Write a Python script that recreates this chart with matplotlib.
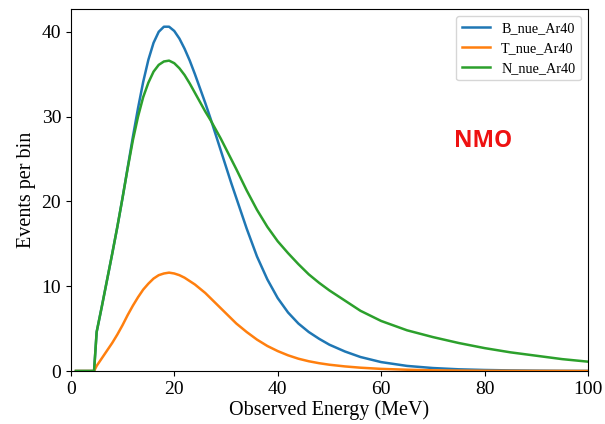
import matplotlib
matplotlib.use("Agg")
import matplotlib.pyplot as plt

energy = [1, 4.5, 5, 6, 7, 8, 9, 10, 11, 12, 13, 14, 15, 16, 17, 18, 19, 20,
          21, 22, 23, 24, 25, 26, 27, 28, 29, 30, 31, 32, 34, 36, 38, 40, 42,
          44, 46, 48, 50, 53, 56, 60, 65, 70, 75, 80, 85, 90, 95, 100]

b_nue = [0, 0, 4.6, 7.6, 10.7, 13.8, 17.0, 20.4, 24.0, 27.6, 31.0, 34.1, 36.7,
         38.7, 40.0, 40.6, 40.6, 40.1, 39.2, 38.0, 36.6, 35.0, 33.3, 31.6, 29.8,
         27.9, 26.0, 24.1, 22.2, 20.4, 16.8, 13.5, 10.8, 8.6, 6.9, 5.6, 4.6, 3.8,
         3.1, 2.3, 1.65, 1.05, 0.6, 0.35, 0.2, 0.12, 0.07, 0.04, 0.02, 0.01]

t_nue = [0, 0, 0.6, 1.5, 2.4, 3.3, 4.3, 5.4, 6.6, 7.7, 8.7, 9.6, 10.3, 10.9,
         11.3, 11.5, 11.6, 11.5, 11.3, 11.0, 10.6, 10.2, 9.7, 9.2, 8.6, 8.0, 7.4,
         6.8, 6.2, 5.6, 4.6, 3.7, 2.95, 2.35, 1.85, 1.45, 1.15, 0.92, 0.74, 0.54,
         0.39, 0.25, 0.15, 0.08, 0.05, 0.03, 0.02, 0.01, 0.01, 0.0]

n_nue = [0, 0, 4.6, 7.6, 10.7, 13.8, 17.0, 20.4, 23.9, 27.2, 30.0, 32.3, 34.0,
         35.3, 36.1, 36.5, 36.6, 36.3, 35.7, 34.9, 33.9, 32.8, 31.7, 30.6, 29.6,
         28.5, 27.4, 26.2, 25.0, 23.8, 21.3, 19.0, 17.0, 15.3, 13.9, 12.6, 11.4,
         10.4, 9.5, 8.3, 7.1, 5.9, 4.8, 4.0, 3.3, 2.7, 2.2, 1.8, 1.4, 1.1]

labels = ["B_nue_Ar40", "T_nue_Ar40", "N_nue_Ar40"]

plt.rcParams["font.family"] = ["Liberation Serif", "DejaVu Serif"]

fig = plt.figure(figsize=(6.05, 4.24), dpi=100)
ax = fig.add_axes([0.117, 0.125, 0.855, 0.854])

ax.plot(energy, b_nue, color="#1f77b4", lw=1.8, label=labels[0])
ax.plot(energy, t_nue, color="#ff7f0e", lw=1.8, label=labels[1])
ax.plot(energy, n_nue, color="#2ca02c", lw=1.8, label=labels[2])

ax.set_xlim(0, 100)
ax.set_ylim(0, 42.7)
ax.set_xticks([0, 20, 40, 60, 80, 100])
ax.set_yticks([0, 10, 20, 30, 40])
ax.tick_params(labelsize=14)
ax.set_xlabel("Observed Energy (MeV)", fontsize=14.5, labelpad=2)
ax.set_ylabel("Events per bin", fontsize=14.5)

ax.legend(loc="upper right", fontsize=10.2)
ax.text(79.7, 27.1, "NMO", color="#ee1111", fontsize=16.5, fontweight="bold",
        family="Open Sans", ha="center", va="center")

fig.savefig("out.png", dpi=100)
